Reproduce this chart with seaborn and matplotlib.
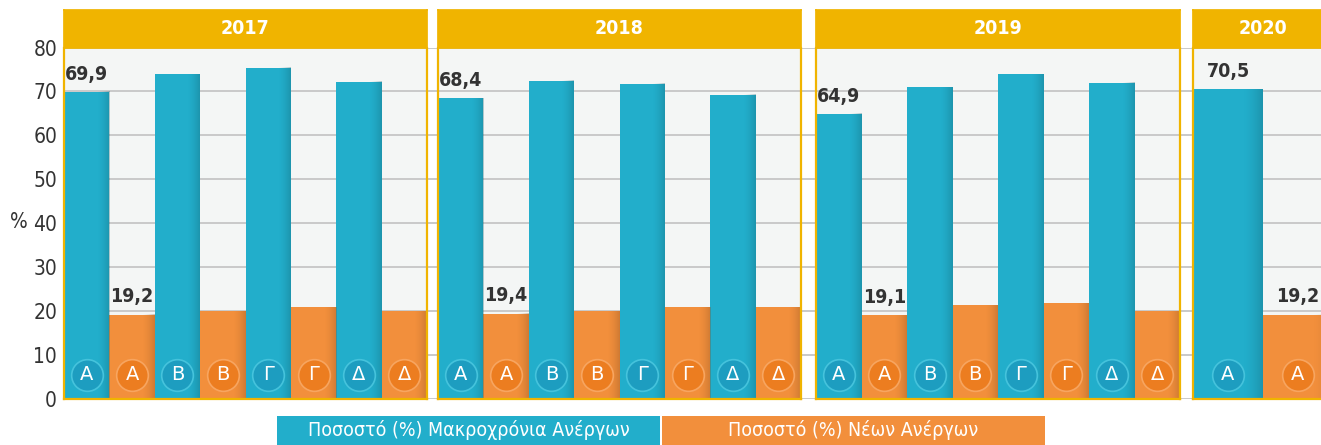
import matplotlib
matplotlib.use("Agg")
import matplotlib.pyplot as plt
import seaborn as sns
import pandas as pd
import numpy as np
from matplotlib.patches import Rectangle
from matplotlib.colors import to_rgb

# ---------------- data ----------------
years = ["2017", "2018", "2019", "2020"]
quarters = ["Α", "Β", "Γ", "Δ"]
series_names = ["Ποσοστό (%) Μακροχρόνια Ανέργων", "Ποσοστό (%) Νέων Ανέργων"]

long_2017 = [69.9, 73.9, 75.4, 72.2]
long_2018 = [68.4, 72.4, 71.7, 69.3]
long_2019 = [64.9, 71.0, 73.9, 72.0]
long_2020 = [70.5]

new_2017 = [19.2, 20.0, 20.9, 20.0]
new_2018 = [19.4, 20.0, 20.9, 20.9]
new_2019 = [19.1, 21.3, 21.8, 20.0]
new_2020 = [19.2]

long_term = {"2017": long_2017, "2018": long_2018, "2019": long_2019, "2020": long_2020}
new_unemp = {"2017": new_2017, "2018": new_2018, "2019": new_2019, "2020": new_2020}

y_ticks = [0, 10, 20, 30, 40, 50, 60, 70, 80]

# ---------------- style ----------------
BLUE = "#22aecb"
ORANGE = "#f28f3c"
BLUE_BADGE = "#1d9dc0"
ORANGE_BADGE = "#ec7d20"
YELLOW = "#f0b400"
PANEL_BG = "#f4f6f5"
GRID = "#c9c9c9"
TEXT = "#333333"

sns.set_theme(style="white")
plt.rcParams["font.family"] = ["DejaVu Sans"]
plt.rcParams["font.stretch"] = "condensed"

W, H = 1321, 445
fig = plt.figure(figsize=(W / 100, H / 100), dpi=100)
fig.patch.set_facecolor("white")


def fx(px):
    return px / W


def fy(py):
    return 1 - py / H


y_zero_px, y_top_px = 399, 47.5
bottom = fy(y_zero_px)
height = fy(y_top_px) - bottom

# background axes with the y scale and grid (visible in gaps)
bg = fig.add_axes([fx(64), bottom, fx(1330 - 64), height])
bg.set_facecolor("white")
bg.set_ylim(0, 80)
bg.set_xlim(0, 1)
bg.set_xticks([])
bg.set_yticks(y_ticks)
bg.set_yticklabels([str(t) for t in y_ticks], fontsize=15, color=TEXT)
bg.tick_params(axis="y", length=0, pad=5)
bg.yaxis.grid(True, color=GRID, lw=1.4)
for s in bg.spines.values():
    s.set_visible(False)
fig.text(fx(19), fy(222), "%", fontsize=15, color=TEXT, ha="center", va="center")

panel_px = {"2017": (64, 427), "2018": (438, 801), "2019": (816, 1180), "2020": (1193, 1333)}
header_top, header_bot = 10, 48

for yr in years:
    l, r = panel_px[yr]
    n = len(long_term[yr])
    ax = fig.add_axes([fx(l), bottom, fx(r - l), height])
    df = pd.DataFrame({
        "Τρίμηνο": quarters[:n] * 2,
        "Σειρά": [series_names[0]] * n + [series_names[1]] * n,
        "Τιμή": long_term[yr] + new_unemp[yr],
    })
    sns.barplot(data=df, x="Τρίμηνο", y="Τιμή", hue="Σειρά",
                hue_order=series_names, palette=[BLUE, ORANGE],
                width=1.0, gap=0, dodge=True, saturation=1,
                linewidth=0, edgecolor="none", legend=False, ax=ax, errorbar=None)
    cont_blue, cont_orange = ax.containers[0], ax.containers[1]
    # gradient shading on bar right edges
    for c, col in ((cont_blue, BLUE), (cont_orange, ORANGE)):
        dark = np.array(to_rgb(col)) * 0.55
        grad = np.zeros((1, 60, 4))
        grad[..., :3] = dark
        grad[..., 3] = np.linspace(0, 0.5, 60) ** 1.6
        for p in c:
            x, w, h = p.get_x(), p.get_width(), p.get_height()
            ax.imshow(grad, extent=[x + 0.72 * w, x + w, 0, h], aspect="auto",
                      zorder=p.get_zorder() + 0.1, interpolation="bilinear")
    ax.set_xlim(-0.5, n - 0.5)
    ax.set_ylim(0, 80)
    ax.set_facecolor(PANEL_BG)
    ax.set_yticks(y_ticks)
    ax.yaxis.grid(True, color=GRID, lw=1.4)
    ax.set_axisbelow(True)
    ax.set_xticks([])
    ax.set_yticklabels([])
    ax.tick_params(length=0)
    ax.set_xlabel("")
    ax.set_ylabel("")
    for s in ax.spines.values():
        s.set_color(YELLOW)
        s.set_linewidth(1.6)
    ax.spines["top"].set_visible(False)

    # value labels on the first quarter
    for c, vals in ((cont_blue, long_term[yr]), (cont_orange, new_unemp[yr])):
        labels = [f"{vals[0]:.1f}".replace(".", ",")] + [""] * (n - 1)
        ax.bar_label(c, labels=labels, padding=6, fontsize=14, fontweight="bold",
                     color=TEXT)

    # quarter badges
    for c, bcol, ecol in ((cont_blue, BLUE_BADGE, "#45c3dc"), (cont_orange, ORANGE_BADGE, "#f7a560")):
        for p, q in zip(c, quarters[:n]):
            cx = p.get_x() + p.get_width() / 2
            ax.scatter([cx], [5.5], s=520, color=bcol, edgecolor=ecol,
                       linewidth=1.2, zorder=5)
            ax.text(cx, 5.5, q, ha="center", va="center", color="white",
                    fontsize=14, fontstretch="normal", zorder=6)

    # header
    hx = fig.add_axes([fx(l), fy(header_bot), fx(r - l), fy(header_top) - fy(header_bot)])
    hx.set_facecolor(YELLOW)
    hx.set_xticks([])
    hx.set_yticks([])
    for s in hx.spines.values():
        s.set_color(YELLOW)
    hx.text(0.5, 0.5, yr, transform=hx.transAxes, ha="center", va="center",
            color="white", fontsize=14, fontweight="bold")

# custom legend boxes
leg_top = fy(416)
fig.add_artist(Rectangle((fx(277), 0), fx(660 - 277), leg_top, transform=fig.transFigure,
                         facecolor=BLUE, edgecolor="none"))
fig.add_artist(Rectangle((fx(662), 0), fx(1045 - 662), leg_top, transform=fig.transFigure,
                         facecolor=ORANGE, edgecolor="none"))
fig.text(fx((277 + 660) / 2), leg_top / 2, series_names[0], ha="center", va="center",
         color="white", fontsize=14)
fig.text(fx((662 + 1045) / 2), leg_top / 2, series_names[1], ha="center", va="center",
         color="white", fontsize=14)

fig.savefig("out.png", dpi=100)
